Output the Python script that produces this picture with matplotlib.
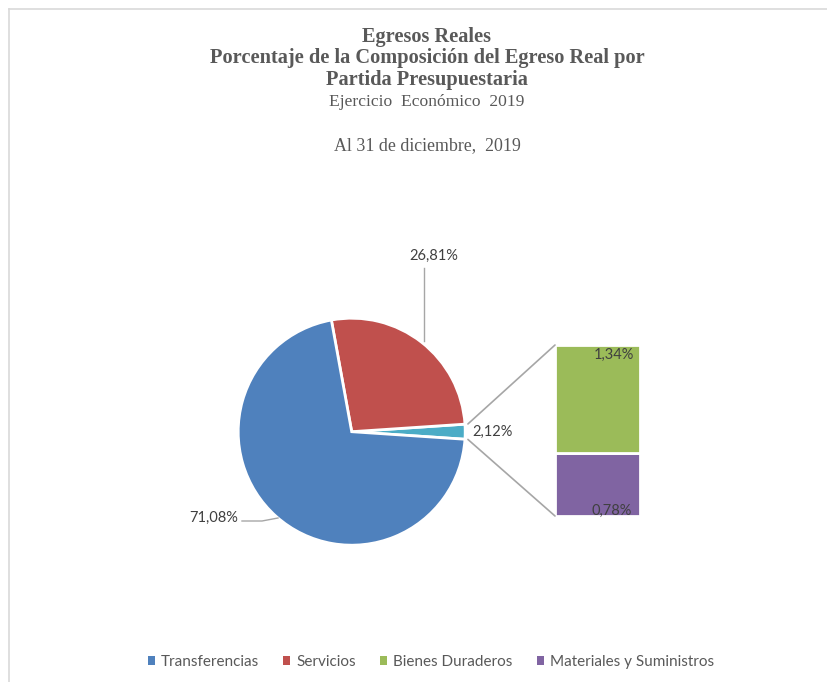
import numpy as np
import matplotlib
matplotlib.use("Agg")
import matplotlib.pyplot as plt
from matplotlib.patches import ConnectionPatch, Patch
from matplotlib.lines import Line2D

# data
pie_labels = ["Otros", "Servicios", "Transferencias"]
pie_values = [2.12, 26.81, 71.08]
pie_colors = ["#4bacc6", "#c0504d", "#4f81bd"]

bar_labels = ["Materiales y Suministros", "Bienes Duraderos"]
bar_values = [0.78, 1.34]
bar_colors = ["#8064a2", "#9bbb59"]

legend_labels = ["Transferencias", "Servicios", "Bienes Duraderos", "Materiales y Suministros"]
legend_colors = ["#4f81bd", "#c0504d", "#9bbb59", "#8064a2"]

title_bold = ["Egresos Reales",
              "Porcentaje de la Composición del Egreso Real por",
              "Partida Presupuestaria"]
title_sub = "Ejercicio  Económico  2019"
title_date = "Al 31 de diciembre,  2019"


def pct(v):
    return f"{v:.2f}".replace(".", ",") + "%"


W, H = 828, 682
fig = plt.figure(figsize=(W / 100, H / 100), dpi=100)
fig.patch.set_facecolor("white")

# chart frame (top and left edges only visible)
fig.add_artist(Line2D([9 / W, 1], [1 - 9 / H, 1 - 9 / H], color="#d9d9d9", lw=1.2))
fig.add_artist(Line2D([9 / W, 9 / W], [0, 1 - 9 / H], color="#d9d9d9", lw=1.2))

# titles
tx = 427 / W
serif = "Liberation Serif"
for i, line in enumerate(title_bold):
    fig.text(tx, 1 - (37 + 21.5 * i) / H, line, ha="center", va="center",
             fontsize=14.7, fontweight="bold", family=serif, color="#595959")
fig.text(tx, 1 - 102 / H, title_sub, ha="center", va="center",
         fontsize=12.6, family=serif, color="#595959")
fig.text(tx, 1 - 146 / H, title_date, ha="center", va="center",
         fontsize=12.9, family=serif, color="#595959")

# pie, in pixel coordinates
ax = fig.add_axes([0, 0, 1, 1])
cx, cy, r = 351.7, H - 431.7, 113.5
start = -pie_values[0] / sum(pie_values) * 360 / 2
wedges, _ = ax.pie(pie_values, colors=pie_colors, startangle=start, counterclock=True,
                   center=(cx, cy), radius=r,
                   wedgeprops=dict(edgecolor="white", linewidth=2))
ax.set_xlim(0, W)
ax.set_ylim(0, H)
ax.set_aspect("equal")
ax.axis("off")

lab_font = dict(family="Lato", fontsize=10.5, color="#404040")
lead = dict(color="#a6a6a6", lw=1)

# 26,81% label with vertical leader
ax.text(434, H - 256, pct(pie_values[1]), ha="center", va="center", **lab_font)
ax.plot([424, 424], [H - 268, H - 341], **lead)
# 71,08% label with leader
ax.text(214, H - 518, pct(pie_values[2]), ha="center", va="center", **lab_font)
ax.plot([242, 262, 278], [H - 521, H - 521, H - 518], **lead)
# 2,12% label
ax.text(472, H - 432, pct(pie_values[0]), ha="left", va="center", **lab_font)

# bar of the small slice
bx = fig.add_axes([555 / W, 1 - 516 / H, 85 / W, 171 / H])
bottom = 0
for v, c in zip(bar_values, bar_colors):
    bx.bar(0, v, width=1, bottom=bottom, color=c, edgecolor="white", linewidth=2)
    bottom += v
bx.set_xlim(-0.5, 0.5)
bx.set_ylim(0, sum(bar_values))
bx.axis("off")

bx.text(0.43, sum(bar_values) - 0.04, pct(bar_values[1]), ha="right", va="top", **lab_font)
bx.text(0.40, -0.02, pct(bar_values[0]), ha="right", va="bottom", clip_on=False, **lab_font)

# connector lines from the small wedge to the bar
w = wedges[0]
for ang, yb in [(w.theta2, sum(bar_values)), (w.theta1, 0)]:
    xa = cx + (r + 3) * np.cos(np.radians(ang))
    ya = cy + (r + 3) * np.sin(np.radians(ang))
    con = ConnectionPatch(xyA=(-0.5, yb), coordsA=bx.transData,
                          xyB=(xa, ya), coordsB=ax.transData,
                          color="#a6a6a6", lw=1.2)
    fig.add_artist(con)

# legend
handles = [Patch(facecolor=c, edgecolor="none") for c in legend_colors]
fig.legend(handles, legend_labels, loc="center", bbox_to_anchor=(431 / W, 1 - 662 / H),
           ncol=4, frameon=False, handlelength=0.45, handleheight=0.45,
           handletextpad=0.4, columnspacing=1.6,
           prop=dict(family="Lato", size=11), labelcolor="#595959")

fig.savefig("out.png", dpi=100, facecolor="white")
